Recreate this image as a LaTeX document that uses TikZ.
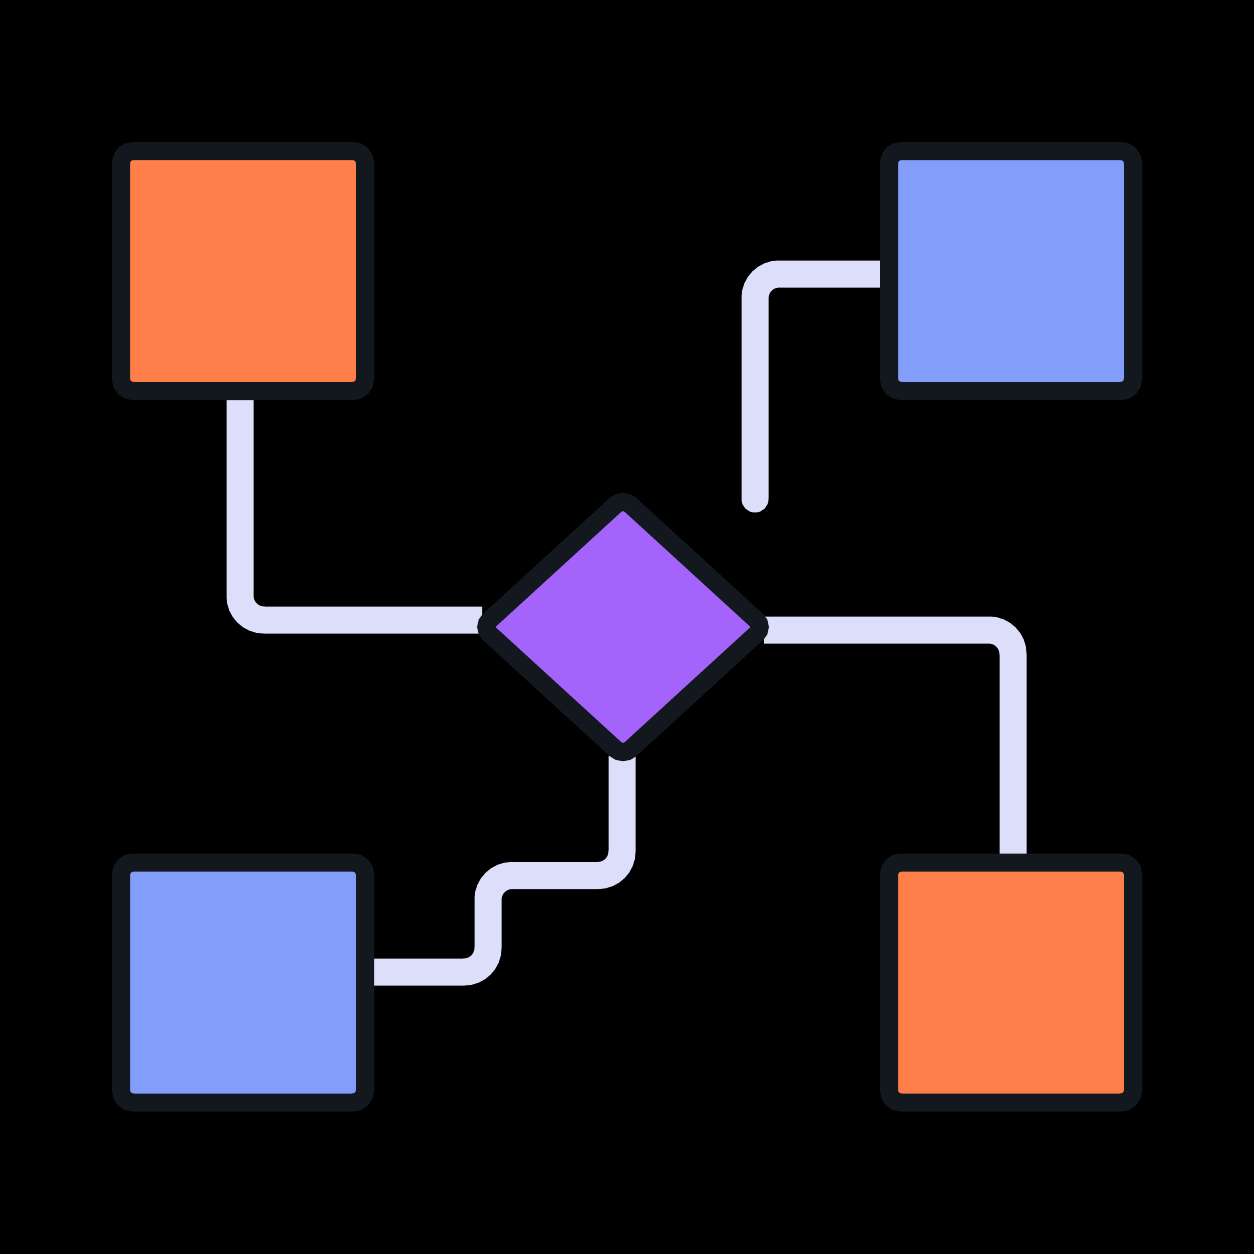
\documentclass[tikz,border=0pt]{standalone}
\usetikzlibrary{shapes.geometric}
\definecolor{orangefill}{HTML}{FF7F4A}
\definecolor{bluefill}{HTML}{839DFB}
\definecolor{purplefill}{HTML}{A463FA}
\definecolor{edgedark}{HTML}{13181F}
\definecolor{connc}{HTML}{DCDEFA}
\tikzset{
  sq/.style={rectangle, draw=edgedark, line width=18pt, rounded corners=12pt,
    minimum width=244pt, minimum height=240pt, inner sep=0pt, outer sep=0pt},
  dia/.style={diamond, draw=edgedark, line width=18pt, rounded corners=10pt,
    minimum width=282pt, minimum height=258pt, inner sep=0pt, outer sep=0pt, fill=purplefill},
  conn/.style={draw=connc, line width=27pt, rounded corners=24pt}
}
\begin{document}
\begin{tikzpicture}[x=1pt,y=-1pt]
\useasboundingbox (0,0) rectangle (1254,1254);
\fill[black] (0,0) rectangle (1254,1254);
% nodes (placed first for anchors, redrawn on top below)
\path
  (243,271) node[sq, draw=none] (tl) {}
  (1011,271) node[sq, draw=none] (tr) {}
  (243,982.5) node[sq, draw=none] (bl) {}
  (1011,982.5) node[sq, draw=none] (br) {}
  (623,627) node[dia, draw=none, fill=none] (d) {};
\coordinate (tend) at (755,499);
\coordinate (k1) at (622,875.5);
\coordinate (k2) at (488,875.5);
\coordinate (k3) at (488,972);
% connectors
\draw[conn] ([xshift=-3pt]tl.south) |- ([yshift=7pt]d.west);
\draw[conn, line cap=round] ([yshift=-3pt]tr.west) -| (tend);
\draw[conn] ([yshift=-3pt]d.east) -| ([xshift=2pt]br.north);
\draw[conn] ([xshift=-1pt]d.south) -- (k1) -- (k2) -- (k3) -- ([yshift=10.5pt]bl.east);
% shapes on top
\node[sq, fill=orangefill] at (tl) {};
\node[sq, fill=bluefill] at (tr) {};
\node[sq, fill=bluefill] at (bl) {};
\node[sq, fill=orangefill] at (br) {};
\node[dia] at (d) {};
\end{tikzpicture}
\end{document}
